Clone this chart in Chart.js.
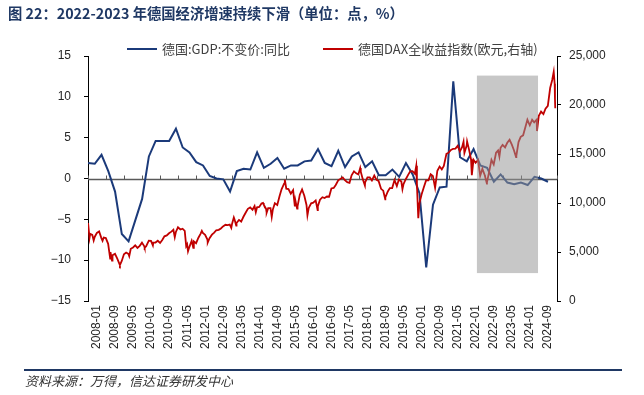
<!DOCTYPE html>
<html><head><meta charset="utf-8">
<script src="https://cdn.jsdelivr.net/npm/chart.js@4"></script>
<style>
html,body{margin:0;padding:0;background:#fff;width:644px;height:395px;overflow:hidden;}
#wrap{position:relative;width:644px;height:395px;}
canvas{position:absolute;left:0;top:0;}
.title{position:absolute;left:8px;top:2px;line-height:20px;font:bold 14.3px "Noto Sans CJK SC",sans-serif;color:#1f3864;white-space:nowrap;}
.lg{position:absolute;top:39px;line-height:18px;font:13px "Noto Sans CJK SC",sans-serif;color:#404040;white-space:nowrap;}
.sw{display:inline-block;width:30px;height:2px;vertical-align:middle;margin-right:5px;position:relative;top:-1px;}
.fline{position:absolute;left:24px;top:369px;width:598px;height:2px;background:#1f3864;}
.foot{position:absolute;left:25px;top:371px;line-height:18px;font:italic 13px "Noto Sans CJK SC",sans-serif;color:#333;white-space:nowrap;}
</style></head>
<body><div id="wrap">
<canvas id="c" width="644" height="395"></canvas>
<div class="title">图 22：2022-2023 年德国经济增速持续下滑（单位：点，%）</div>
<div class="lg" style="left:127px"><span class="sw" style="background:#1b3a7a"></span>德国:GDP:不变价:同比</div>
<div class="lg" style="left:323px"><span class="sw" style="background:#c00000"></span>德国DAX全收益指数(欧元,右轴)</div>
<div class="fline"></div>
<div class="foot">资料来源：万得，信达证券研发中心</div>
</div>
<script>
// ---------- data ----------
const xLabels = ['2008-01','2008-09','2009-05','2010-01','2010-09','2011-05','2012-01','2012-09','2013-05','2014-01','2014-09','2015-05','2016-01','2016-09','2017-05','2018-01','2018-09','2019-05','2020-01','2020-09','2021-05','2022-01','2022-09','2023-05','2024-01','2024-09'];
const xAxisEnd = '2025-05';

const gdpDates = ['2008-01','2008-04','2008-07','2008-10','2009-01','2009-04','2009-07','2009-10','2010-01','2010-04','2010-07','2010-10','2011-01','2011-04','2011-07','2011-10','2012-01','2012-04','2012-07','2012-10','2013-01','2013-04','2013-07','2013-10','2014-01','2014-04','2014-07','2014-10','2015-01','2015-04','2015-07','2015-10','2016-01','2016-04','2016-07','2016-10','2017-01','2017-04','2017-07','2017-10','2018-01','2018-04','2018-07','2018-10','2019-01','2019-04','2019-07','2019-10','2020-01','2020-04','2020-07','2020-10','2021-01','2021-04','2021-07','2021-10','2022-01','2022-04','2022-07','2022-10','2023-01','2023-04','2023-07','2023-10','2024-01','2024-04','2024-07','2024-10','2025-01'];
const gdpValues = [1.9,1.8,2.9,0.9, -1.6,-6.8,-7.7,-5.1, -2.5,2.7,4.6,4.6, 4.6,6.1,3.8,3.2, 2.0,1.6,0.3,0.0, -0.1,-1.6,0.9,1.2, 1.1,3.2,1.3,1.8, 2.5,1.2,1.6,1.6, 2.1,2.2,3.6,1.9, 1.5,3.4,1.4,2.7, 3.2,1.4,2.1,0.4, 0.4,1.1,0.2,1.9, 0.5,-1.8,-10.9,-3.2, -1.1,-1.0,11.9,2.6, 2.1,3.6,1.6,1.3, -0.4,0.5,-0.5,-0.7, -0.5,-0.8,0.2,0.0, -0.4];

const daxDates = ['2008-01-02','2008-01-22','2008-01-31','2008-02-29','2008-03-17','2008-03-31','2008-04-30','2008-05-30','2008-06-30','2008-07-15','2008-07-31','2008-08-29','2008-09-30','2008-10-27','2008-10-31','2008-11-21','2008-11-28','2008-12-31',
'2009-01-30','2009-02-27','2009-03-06','2009-03-31','2009-04-30','2009-05-29','2009-06-30','2009-07-10','2009-07-31','2009-08-31','2009-09-30','2009-10-30','2009-11-30','2009-12-30',
'2010-01-29','2010-02-05','2010-02-26','2010-03-31','2010-04-30','2010-05-25','2010-05-31','2010-06-30','2010-07-30','2010-08-31','2010-09-30','2010-10-29','2010-11-30','2010-12-30',
'2011-01-31','2011-02-28','2011-03-16','2011-03-31','2011-04-29','2011-05-31','2011-06-30','2011-07-29','2011-08-18','2011-08-31','2011-09-12','2011-09-30','2011-10-31','2011-11-23','2011-11-30','2011-12-30',
'2012-01-31','2012-02-29','2012-03-16','2012-03-30','2012-04-30','2012-05-31','2012-06-04','2012-06-29','2012-07-31','2012-08-31','2012-09-28','2012-10-31','2012-11-30','2012-12-28',
'2013-01-31','2013-02-28','2013-03-28','2013-04-18','2013-04-30','2013-05-22','2013-05-31','2013-06-24','2013-06-28','2013-07-31','2013-08-30','2013-09-30','2013-10-31','2013-11-29','2013-12-30',
'2014-01-31','2014-02-28','2014-03-14','2014-03-31','2014-04-30','2014-05-30','2014-06-20','2014-06-30','2014-07-31','2014-08-08','2014-08-29','2014-09-30','2014-10-16','2014-10-31','2014-11-28','2014-12-30',
'2015-01-30','2015-02-27','2015-03-31','2015-04-10','2015-04-30','2015-05-29','2015-06-30','2015-07-31','2015-08-24','2015-08-31','2015-09-24','2015-09-30','2015-10-30','2015-11-30','2015-12-30',
'2016-01-29','2016-02-11','2016-02-29','2016-03-31','2016-04-29','2016-05-31','2016-06-27','2016-06-30','2016-07-29','2016-08-31','2016-09-30','2016-10-31','2016-11-30','2016-12-30',
'2017-01-31','2017-02-28','2017-03-31','2017-04-28','2017-05-31','2017-06-30','2017-07-31','2017-08-31','2017-09-29','2017-10-31','2017-11-30','2017-12-29',
'2018-01-23','2018-01-31','2018-02-28','2018-03-26','2018-03-29','2018-04-30','2018-05-31','2018-06-29','2018-07-31','2018-08-31','2018-09-28','2018-10-31','2018-11-30','2018-12-27','2018-12-28',
'2019-01-31','2019-02-28','2019-03-29','2019-04-30','2019-05-31','2019-06-28','2019-07-31','2019-08-15','2019-08-30','2019-09-30','2019-10-31','2019-11-29','2019-12-30',
'2020-01-31','2020-02-19','2020-02-28','2020-03-16','2020-03-31','2020-04-30','2020-05-29','2020-06-30','2020-07-31','2020-08-31','2020-09-30','2020-10-30','2020-11-30','2020-12-30',
'2021-01-29','2021-02-26','2021-03-31','2021-04-30','2021-05-31','2021-06-30','2021-07-30','2021-08-31','2021-09-30','2021-10-29','2021-11-18','2021-11-30','2021-12-31',
'2022-01-05','2022-01-31','2022-02-28','2022-03-08','2022-03-31','2022-04-29','2022-05-31','2022-06-30','2022-07-29','2022-08-31','2022-09-29','2022-09-30','2022-10-31','2022-11-30','2022-12-30',
'2023-01-31','2023-02-28','2023-03-15','2023-03-31','2023-04-28','2023-05-31','2023-06-30','2023-07-31','2023-08-31','2023-09-29','2023-10-27','2023-10-31','2023-11-30','2023-12-29',
'2024-01-31','2024-02-29','2024-03-28','2024-04-30','2024-05-31','2024-06-28','2024-07-31','2024-08-05','2024-08-30','2024-09-30','2024-10-31','2024-11-29','2024-12-30',
'2025-01-31','2025-02-28','2025-03-18','2025-03-31','2025-04-04','2025-04-08'];
const daxValues = [7950,6440,6852,6748,6180,6535,6949,7097,6418,6150,6480,6422,5831,4335,4988,4127,4669,4810,
4338,3844,3666,4085,4770,4941,4809,4575,5332,5465,5675,5414,5625,5957,
5608,5434,5598,6154,6136,5670,5964,5966,6148,5925,6229,6601,6688,6914,
7077,7272,6513,7041,7514,7294,7376,7159,5603,5785,5072,5502,6141,5428,6089,5898,
6459,6856,7157,6947,6761,6264,5969,6416,6772,6971,7216,7260,7406,7612,
7776,7741,7795,7459,7914,8531,8349,7690,7959,8276,8104,8594,9033,9406,9552,
9306,9692,9056,9556,9603,9943,10010,9833,9407,9010,9470,9474,8572,9327,9980,9806,
10694,11402,11966,12375,11454,11414,10945,11309,9648,10259,9428,9660,10850,11382,10743,
9798,8752,9495,9966,10039,10263,9269,9680,10337,10593,10511,10665,10640,11481,
11535,11834,12313,12438,12615,12325,12118,12056,12829,13230,13024,12918,
13560,13189,12436,11787,12097,12612,12605,12306,12806,12364,12247,11447,11257,10382,10559,
11173,11516,11526,12344,11727,12399,12189,11412,11939,12428,12867,13236,13249,
12982,13789,11890,8442,9936,10862,11587,12311,12313,12945,12761,11556,13291,13719,
13433,13786,15008,15136,15421,15531,15544,15835,15261,15689,16251,15100,15885,
16271,15471,14461,12832,14415,14098,14388,12784,13484,12835,11976,12114,13254,14397,13924,
15128,15365,14735,15629,15922,15664,16148,16447,15947,15387,14687,14810,16215,16752,
16904,17678,18492,17932,18498,18235,18509,17339,18907,19325,19078,19626,19909,
21732,22551,23380,22163,20642,19670];

const shadeDates = ['2022-05-16','2024-08-19'];
const shadeRightAxis = [2850, 23000];

// ---------- helpers ----------
function monthIndex(s){
  const p = s.split('-').map(Number);
  return (p[0]-2008)*12 + (p[1]-1) + ((p[2]||1)-1)/31;
}
const labelPos = xLabels.map(l => monthIndex(l) + 4);
const tickMarks = xLabels.map(l => monthIndex(l)).concat([monthIndex(xAxisEnd)]);

const gdpData = gdpDates.map((d,i)=>({x:monthIndex(d), y:gdpValues[i]}));
const daxData = daxDates.map((d,i)=>({x:monthIndex(d), y:daxValues[i]}));

const zeroAxis = {
  id:'zeroAxis',
  beforeDatasetsDraw(chart){
    const {ctx, chartArea:a, scales} = chart;
    const x = scales.x, y = scales.y;
    const y0 = Math.round(y.getPixelForValue(0)) + 0.5;
    ctx.save();
    ctx.strokeStyle = '#595959';
    ctx.lineWidth = 1.5;
    ctx.beginPath(); ctx.moveTo(a.left, y0); ctx.lineTo(a.right, y0); ctx.stroke();
    ctx.lineWidth = 1;
    ctx.beginPath();
    tickMarks.forEach(m => {
      const px = Math.round(x.getPixelForValue(m)) + 0.5;
      ctx.moveTo(px, y0); ctx.lineTo(px, y0 - 4);
    });
    ctx.stroke();
    ctx.restore();
  }
};
const shade = {
  id:'shade',
  afterDatasetsDraw(chart){
    const {ctx, scales} = chart;
    const x1 = scales.x.getPixelForValue(monthIndex(shadeDates[0]));
    const x2 = scales.x.getPixelForValue(monthIndex(shadeDates[1]));
    const yt = scales.y1.getPixelForValue(shadeRightAxis[1]);
    const yb = scales.y1.getPixelForValue(shadeRightAxis[0]);
    ctx.save();
    ctx.fillStyle = 'rgba(150,150,150,0.53)';
    ctx.fillRect(x1, yt, x2 - x1, yb - yt);
    ctx.restore();
  }
};

const numFont = {family:'"Liberation Sans", Arial, sans-serif', size:12};

new Chart(document.getElementById('c'), {
  type:'line',
  data:{datasets:[
    {label:'德国DAX全收益指数(欧元,右轴)', data:daxData, yAxisID:'y1', borderColor:'#c00000', backgroundColor:'#c00000', borderWidth:1.8, pointRadius:0, tension:0, order:0},
    {label:'德国:GDP:不变价:同比', data:gdpData, yAxisID:'y', borderColor:'#1b3a7a', backgroundColor:'#1b3a7a', borderWidth:2, pointRadius:0, tension:0, order:1}
  ]},
  options:{
    responsive:false, animation:false,
    layout:{padding:{top:56,left:0,right:0,bottom:0}},
    plugins:{legend:{display:false}, tooltip:{enabled:false}},
    scales:{
      x:{type:'linear', min:0, max:monthIndex(xAxisEnd),
        grid:{display:false, drawTicks:false}, border:{display:false},
        afterBuildTicks(s){ s.ticks = labelPos.map(v=>({value:v})); },
        afterFit(s){ s.height = 94; },
        ticks:{autoSkip:false, minRotation:90, maxRotation:90, padding:4, color:'#262626', font:numFont,
          callback:(v,i)=>xLabels[i]}
      },
      y:{position:'left', min:-15, max:15,
        afterFit(s){ s.width = 88; },
        grid:{drawOnChartArea:false, tickLength:4, tickColor:'#000', tickWidth:1},
        border:{display:true, color:'#000', width:1},
        ticks:{stepSize:5, padding:13, color:'#262626', font:numFont,
          callback:v => v < 0 ? '\u2212' + Math.abs(v) : String(v)}
      },
      y1:{position:'right', min:0, max:25000,
        afterFit(s){ s.width = 87; },
        grid:{drawOnChartArea:false, tickLength:4, tickColor:'#000', tickWidth:1},
        border:{display:true, color:'#000', width:1},
        ticks:{stepSize:5000, padding:8, color:'#262626', font:numFont,
          callback:v => v.toLocaleString('en-US')}
      }
    }
  },
  plugins:[zeroAxis, shade]
});
</script>
</body></html>
